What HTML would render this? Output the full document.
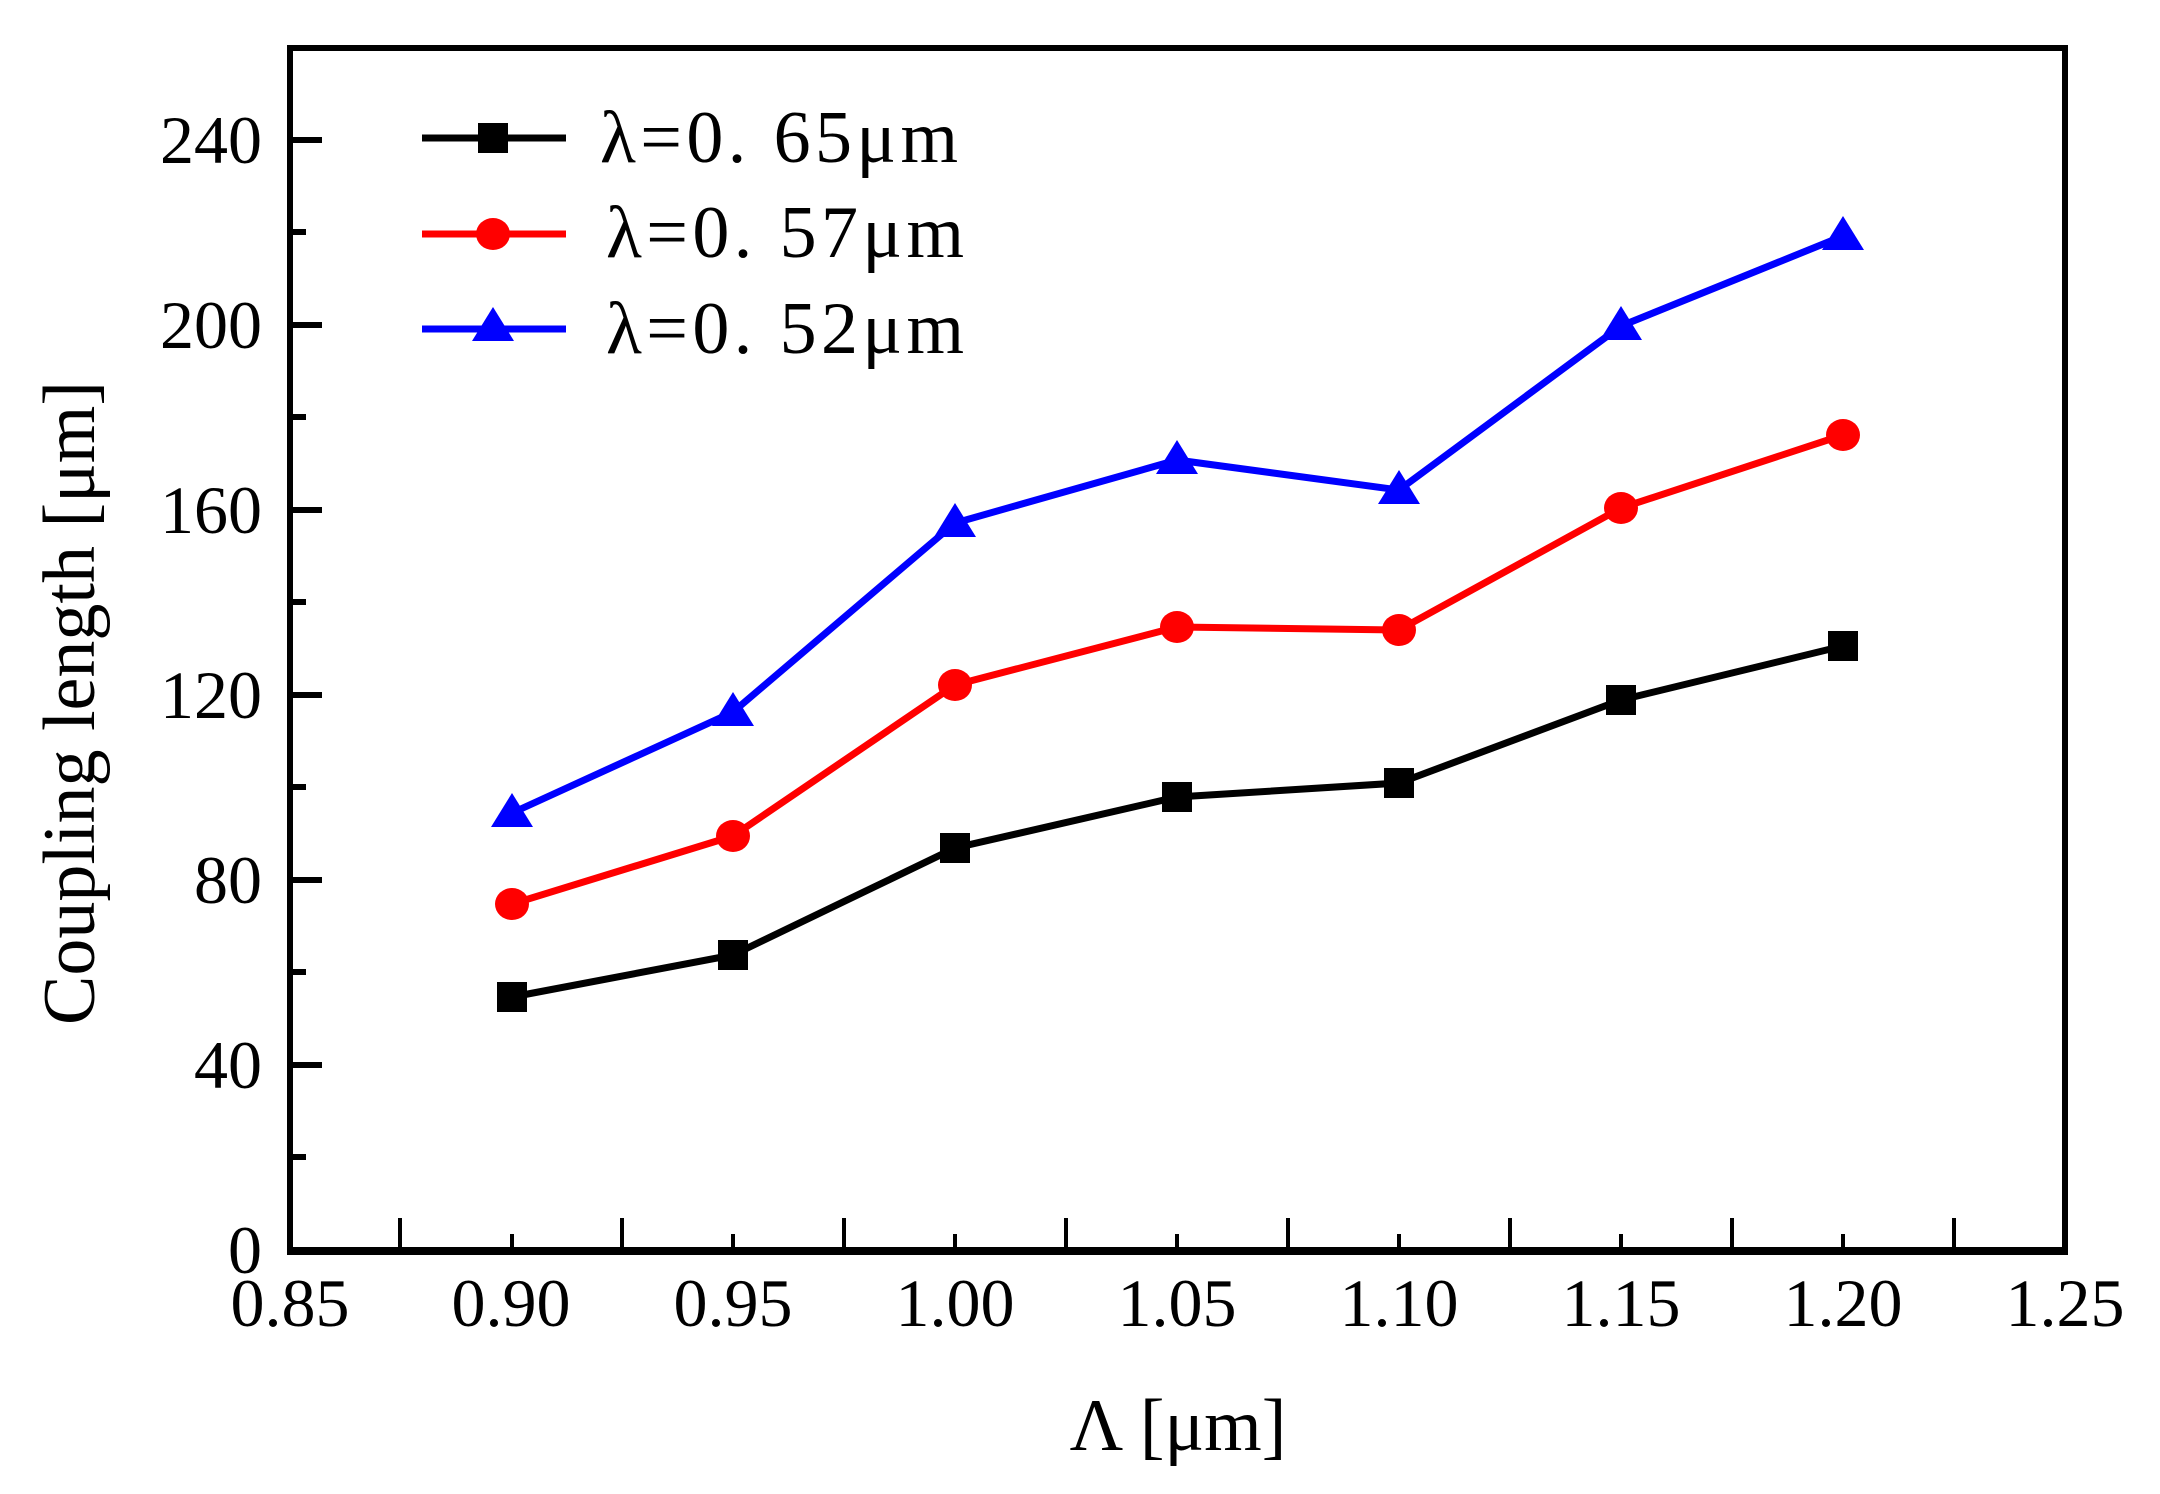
<!DOCTYPE html>
<html><head><style>body{margin:0;background:#fff}svg{display:block}</style></head><body>
<svg width="2160" height="1494" xmlns="http://www.w3.org/2000/svg" font-family="Liberation Serif, serif">
<rect width="2160" height="1494" fill="#fff"/>
<g stroke="#000" stroke-width="4">
<line x1="400" y1="1250" x2="400" y2="1218"/><line x1="622" y1="1250" x2="622" y2="1218"/><line x1="844" y1="1250" x2="844" y2="1218"/><line x1="1066" y1="1250" x2="1066" y2="1218"/><line x1="1288" y1="1250" x2="1288" y2="1218"/><line x1="1510" y1="1250" x2="1510" y2="1218"/><line x1="1732" y1="1250" x2="1732" y2="1218"/><line x1="1954" y1="1250" x2="1954" y2="1218"/>
<line x1="512" y1="1250" x2="512" y2="1234"/><line x1="733" y1="1250" x2="733" y2="1234"/><line x1="955" y1="1250" x2="955" y2="1234"/><line x1="1177" y1="1250" x2="1177" y2="1234"/><line x1="1399" y1="1250" x2="1399" y2="1234"/><line x1="1621" y1="1250" x2="1621" y2="1234"/><line x1="1843" y1="1250" x2="1843" y2="1234"/>
</g>
<g stroke="#000" stroke-width="6">
<line x1="290" y1="1065" x2="322" y2="1065"/><line x1="290" y1="880" x2="322" y2="880"/><line x1="290" y1="695" x2="322" y2="695"/><line x1="290" y1="510" x2="322" y2="510"/><line x1="290" y1="325" x2="322" y2="325"/><line x1="290" y1="140" x2="322" y2="140"/>
<line x1="290" y1="1157" x2="306" y2="1157"/><line x1="290" y1="972" x2="306" y2="972"/><line x1="290" y1="787" x2="306" y2="787"/><line x1="290" y1="602" x2="306" y2="602"/><line x1="290" y1="417" x2="306" y2="417"/><line x1="290" y1="232" x2="306" y2="232"/>
</g>
<rect x="290" y="48" width="1775" height="1202" fill="none" stroke="#000" stroke-width="6"/>
<line x1="287" y1="1251" x2="2068" y2="1251" stroke="#000" stroke-width="8"/>
<g font-size="68" text-anchor="end">
<text x="262" y="1273">0</text><text x="262" y="1088">40</text><text x="262" y="903">80</text><text x="262" y="718">120</text><text x="262" y="533">160</text><text x="262" y="348">200</text><text x="262" y="163">240</text>
</g>
<g font-size="68" text-anchor="middle">
<text x="290" y="1326">0.85</text><text x="511" y="1326">0.90</text><text x="733" y="1326">0.95</text><text x="955" y="1326">1.00</text><text x="1177" y="1326">1.05</text><text x="1399" y="1326">1.10</text><text x="1621" y="1326">1.15</text><text x="1843" y="1326">1.20</text><text x="2065" y="1326">1.25</text>
</g>
<text x="1178" y="1450" font-size="74" text-anchor="middle">Λ [μm]</text>
<text transform="translate(94,703) rotate(-90)" font-size="74" text-anchor="middle">Coupling length [μm]</text>
<polyline fill="none" stroke="#000" stroke-width="7" points="512,997 733,955 955,848 1177,797 1399,783 1621,700 1843,646"/>
<polyline fill="none" stroke="#f00" stroke-width="7" points="512,904 733,836 955,685 1177,627 1399,630 1621,508 1843,435"/>
<polyline fill="none" stroke="#00f" stroke-width="7" points="512,813 733,712 955,523 1177,460 1399,490 1621,326 1843,236"/>
<g fill="#000">
<rect x="497" y="982" width="30" height="30"/><rect x="718" y="940" width="30" height="30"/><rect x="940" y="833" width="30" height="30"/><rect x="1162" y="782" width="30" height="30"/><rect x="1384" y="768" width="30" height="30"/><rect x="1606" y="685" width="30" height="30"/><rect x="1828" y="631" width="30" height="30"/>
</g>
<g fill="#f00">
<ellipse cx="512" cy="904" rx="17" ry="16"/><ellipse cx="733" cy="836" rx="17" ry="16"/><ellipse cx="955" cy="685" rx="17" ry="16"/><ellipse cx="1177" cy="627" rx="17" ry="16"/><ellipse cx="1399" cy="630" rx="17" ry="16"/><ellipse cx="1621" cy="508" rx="17" ry="16"/><ellipse cx="1843" cy="435" rx="17" ry="16"/>
</g>
<g fill="#00f">
<polygon points="512,793 533,827 491,827"/><polygon points="733,692 754,726 712,726"/><polygon points="955,503 976,537 934,537"/><polygon points="1177,440 1198,474 1156,474"/><polygon points="1399,470 1420,504 1378,504"/><polygon points="1621,306 1642,340 1600,340"/><polygon points="1843,216 1864,250 1822,250"/>
</g>
<line x1="422" y1="138" x2="566" y2="138" stroke="#000" stroke-width="7"/>
<rect x="478" y="123" width="30" height="30" fill="#000"/>
<line x1="422" y1="234" x2="566" y2="234" stroke="#f00" stroke-width="7"/>
<ellipse cx="493" cy="234" rx="17" ry="16" fill="#f00"/>
<line x1="422" y1="329" x2="566" y2="329" stroke="#00f" stroke-width="7"/>
<polygon points="493,307 514,341 472,341" fill="#00f"/>
<g font-size="74">
<text x="600" y="162" textLength="358">λ=0. 65μm</text>
<text x="606" y="257" textLength="358">λ=0. 57μm</text>
<text x="606" y="353" textLength="358">λ=0. 52μm</text>
</g>
</svg>
</body></html>
